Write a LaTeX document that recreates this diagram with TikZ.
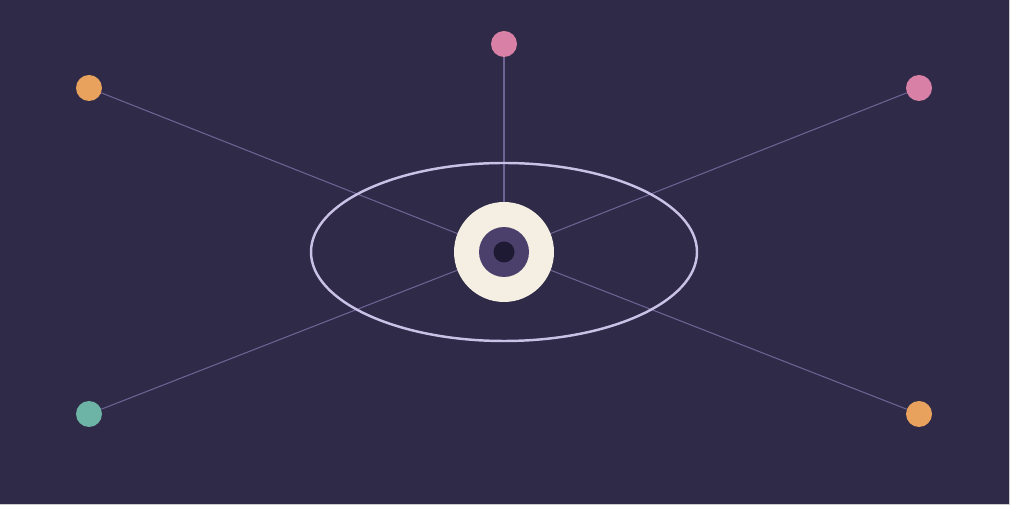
\documentclass[tikz,border=0pt]{standalone}
\usepackage{xcolor}
\usepackage{tikz}
\usetikzlibrary{positioning}

\definecolor{bgdark}{HTML}{2E2A47}
\definecolor{spoke}{HTML}{6E6494}
\definecolor{orbit}{HTML}{C9C1E6}
\definecolor{cream}{HTML}{F5EFE3}
\definecolor{iris}{HTML}{4B3F6C}
\definecolor{pupil}{HTML}{1E1A33}
\definecolor{dotorange}{HTML}{E8A25E}
\definecolor{dotpink}{HTML}{D980A6}
\definecolor{dotgreen}{HTML}{6DB4A6}

\begin{document}
\begin{tikzpicture}[
  x=0.02cm, y=-0.02cm,
  dot/.style={circle, inner sep=0pt, minimum size=0.52cm},
  link/.style={draw=spoke, line width=0.6pt},
]

% === Canvas ===
\useasboundingbox (0,0) rectangle (1024,519);
\fill[white] (0,0) rectangle (1024,519);
\fill[bgdark] (0,0) rectangle (1009,504);
\draw[black!20, line width=0.4pt] (0,504) -- (1009,504) -- (1009,0);

% === Outer dots ===
\node[dot, fill=dotorange] (tl) at (89, 88) {};
\node[dot, fill=dotpink]   (tc) at (504, 44) {};
\node[dot, fill=dotpink]   (tr) at (919, 88) {};
\node[dot, fill=dotgreen]  (bl) at (89, 414) {};
\node[dot, fill=dotorange] (br) at (919, 414) {};

\coordinate (hub) at (504, 252);

% === Spokes ===
\foreach \n in {tl, tc, tr, bl, br}
  \draw[link] (hub) -- (\n);

% === Orbit ===
\draw[orbit, line width=1.4pt] (hub) ellipse [x radius=193, y radius=89];

% === Eye ===
\node[circle, fill=cream, inner sep=0pt, minimum size=2cm] (eye) at (hub) {};
\node[circle, fill=iris, inner sep=0pt, minimum size=1cm] (ring) at (hub) {};
\node[circle, fill=pupil, inner sep=0pt, minimum size=0.42cm] (core) at (hub) {};

\end{tikzpicture}
\end{document}
